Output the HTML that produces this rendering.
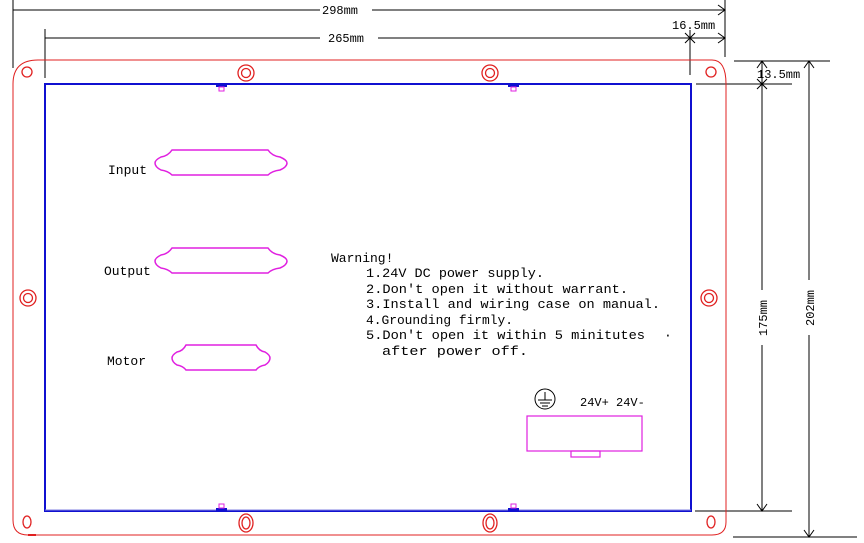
<!DOCTYPE html>
<html><head><meta charset="utf-8"><style>html,body{margin:0;padding:0;background:#fff}svg{display:block}</style></head>
<body>
<svg width="864" height="543" viewBox="0 0 864 543" xmlns="http://www.w3.org/2000/svg" font-family="Liberation Mono, monospace">
<g stroke="#000" stroke-width="1" fill="none">
<!-- 298 dim -->
<line x1="13" y1="0" x2="13" y2="68"/><line x1="725" y1="0" x2="725" y2="57"/>
<line x1="13" y1="10" x2="320" y2="10"/><line x1="372" y1="10" x2="725" y2="10"/>
<path d="M718 5 L725 10 L718 15"/>
<!-- 265 dim -->
<line x1="45" y1="29" x2="45" y2="78"/><line x1="690" y1="30" x2="690" y2="75"/>
<line x1="45" y1="38" x2="320" y2="38"/><line x1="378" y1="38" x2="725" y2="38"/>
<path d="M718 33 L725 38 L718 43"/>
<path d="M685 33 L695 43 M685 43 L695 33"/>
<!-- right dims -->
<line x1="734" y1="61" x2="830" y2="61"/><line x1="696" y1="84" x2="792" y2="84"/>
<line x1="695" y1="511" x2="792" y2="511"/><line x1="733" y1="537" x2="857" y2="537"/>
<line x1="762" y1="61" x2="762" y2="290"/><line x1="762" y1="345" x2="762" y2="511"/>
<line x1="809" y1="61" x2="809" y2="280"/><line x1="809" y1="335" x2="809" y2="537"/>
<path d="M757 68 L762 61 L767 68"/><path d="M757 79 L767 89 M757 89 L767 79"/>
<path d="M804 68 L809 61 L814 68"/>
<path d="M757 504 L762 511 L767 504"/><path d="M804 530 L809 537 L814 530"/>
</g>
<g font-size="12" fill="#000">
<text x="322" y="14">298mm</text>
<text x="328" y="42">265mm</text>
<text x="672" y="29">16.5mm</text>
<text x="757" y="78">13.5mm</text>
<text transform="translate(767,318) rotate(-90)" text-anchor="middle">175mm</text>
<text transform="translate(814,308) rotate(-90)" text-anchor="middle">202mm</text>
</g>
<!-- outer red -->
<path d="M38 60 L712 60 Q726 60 726 84 L726 522 Q726 535 712 535 L28 535 Q13 535 13 520 L13 84 Q13 60 38 60 Z" fill="none" stroke="#e02020" stroke-width="1"/>
<line x1="28" y1="535" x2="36" y2="535" stroke="#e02020" stroke-width="2"/>
<!-- blue rect -->
<rect x="45" y="84" width="646" height="427" fill="none" stroke="#1010d0" stroke-width="2"/>
<line x1="45" y1="510" x2="691" y2="510" stroke="#8080e0" stroke-width="1"/>
<!-- tabs -->
<g fill="#1010d0"><rect x="216" y="84" width="11" height="3"/><rect x="508" y="84" width="11" height="3"/><rect x="216" y="508" width="11" height="3"/><rect x="508" y="508" width="11" height="3"/></g>
<g fill="none" stroke="#e020e0" stroke-width="1"><rect x="219" y="87" width="5" height="4"/><rect x="511" y="87" width="5" height="4"/><rect x="219" y="504" width="5" height="4"/><rect x="511" y="504" width="5" height="4"/></g>
<!-- bolts -->
<g fill="none" stroke="#e02020" stroke-width="1.3">
<circle cx="246" cy="73" r="8"/><circle cx="246" cy="73" r="4.5"/>
<circle cx="490" cy="73" r="8"/><circle cx="490" cy="73" r="4.5"/>
<circle cx="28" cy="298" r="8"/><circle cx="28" cy="298" r="4.5"/>
<circle cx="709" cy="298" r="8"/><circle cx="709" cy="298" r="4.5"/>
<ellipse cx="246" cy="523" rx="7" ry="9"/><ellipse cx="246" cy="523" rx="4" ry="6"/>
<ellipse cx="490" cy="523" rx="7" ry="9"/><ellipse cx="490" cy="523" rx="4" ry="6"/>
<circle cx="27" cy="72" r="5"/><circle cx="711" cy="72" r="5"/>
<ellipse cx="27" cy="522" rx="4" ry="6"/><ellipse cx="711" cy="522" rx="4" ry="6"/>
</g>
<!-- connectors -->
<g fill="none" stroke="#e020e0" stroke-width="1.5">
<path d="M172 150 L268 150 Q272 156 280 157 Q287 160 287 163 Q287 167 280 170 Q272 171 268 175 L172 175 Q168 171 161 170 Q155 167 155 163 Q155 160 161 157 Q168 156 172 150 Z"/>
<path d="M172 248 L268 248 Q272 254 280 255 Q287 258 287 261 Q287 265 280 268 Q272 269 268 273 L172 273 Q168 269 161 268 Q155 265 155 261 Q155 258 161 255 Q168 254 172 248 Z"/>
<path d="M186 345 L256 345 Q259 351 265 352 Q270 355 270 358 Q270 362 265 365 Q259 366 256 370 L186 370 Q183 366 177 365 Q172 362 172 358 Q172 355 177 352 Q183 351 186 345 Z"/>
<rect x="527" y="416" width="115" height="35" stroke-width="1.2"/>
<rect x="571" y="451" width="29" height="6" stroke-width="1.2"/>
</g>
<!-- ground -->
<g stroke="#000" fill="none" stroke-width="1">
<circle cx="545" cy="399" r="10"/>
<line x1="545" y1="392" x2="545" y2="400"/><line x1="538" y1="400" x2="552" y2="400"/><line x1="540" y1="403" x2="550" y2="403"/><line x1="542" y1="406" x2="548" y2="406"/>
</g>
<g font-size="13" fill="#000">
<text x="108" y="174">Input</text>
<text x="104" y="275">Output</text>
<text x="107" y="365">Motor</text>
<text x="580" y="406" font-size="12">24V+ 24V-</text>
<text x="331" y="262">Warning!</text>
<text x="366" y="277" textLength="178" lengthAdjust="spacingAndGlyphs">1.24V DC power supply.</text>
<text x="366" y="293" textLength="262" lengthAdjust="spacingAndGlyphs">2.Don't open it without warrant.</text>
<text x="366" y="308" textLength="294" lengthAdjust="spacingAndGlyphs">3.Install and wiring case on manual.</text>
<text x="366" y="324" textLength="147" lengthAdjust="spacingAndGlyphs">4.Grounding firmly.</text>
<text x="366" y="339" textLength="279" lengthAdjust="spacingAndGlyphs">5.Don't open it within 5 minitutes</text>
<text x="382" y="355" textLength="146" lengthAdjust="spacingAndGlyphs">after power off.</text>
<text x="664" y="339">·</text>
</g>
</svg>
</body></html>
